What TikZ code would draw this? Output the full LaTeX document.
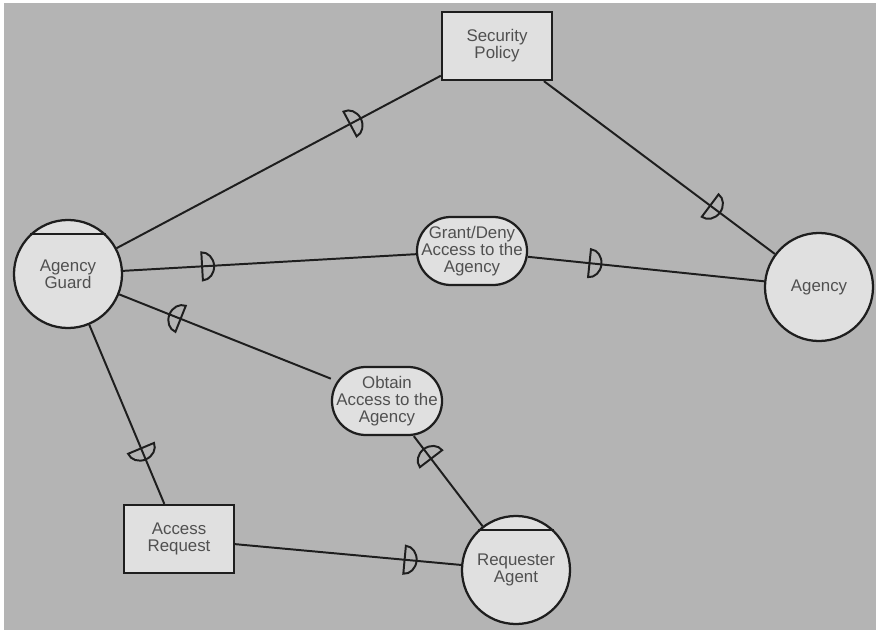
\documentclass[tikz,border=0pt]{standalone}
\usepackage{fontspec}
\setmainfont{Liberation Sans}
\usetikzlibrary{decorations.markings}
\definecolor{bggray}{RGB}{180,180,180}
\definecolor{nodegray}{RGB}{224,224,224}
\definecolor{inkgray}{RGB}{30,30,30}
\definecolor{txtgray}{RGB}{80,80,80}
\begin{document}
\begin{tikzpicture}[
  x=0.025cm, y=-0.025cm,
  base/.style={draw=inkgray, fill=nodegray, line width=1.6pt, text=txtgray,
    font=\fontsize{12}{12}\selectfont, align=center, inner sep=0pt},
  actor/.style={base, circle, minimum size=27mm},
  resource/.style={base, rectangle, minimum width=27.5mm, minimum height=17mm},
  goal/.style={base, rectangle, rounded corners=8.5mm, minimum width=27.5mm, minimum height=17mm},
  link/.style={draw=inkgray, line width=1.4pt},
  dep/.style={link, postaction={decorate}, decoration={markings,
    mark=at position #1 with {\draw[inkgray, line width=1.4pt]
      (0,-3.5mm) -- (0,3.5mm) arc[start angle=90, end angle=-90, x radius=3mm, y radius=3.5mm] -- cycle;}}}
]
  \fill[white] (0,0) rectangle (876,630);
  \fill[bggray] (4,3) rectangle (876,630);
  \useasboundingbox (0,0) rectangle (876,630);

  \node[resource] (sp) at (497,46) {Security\\Policy};
  \node[actor] (ag) at (68,274) {Agency\\Guard};
  \node[actor] (agency) at (819,287) {Agency};
  \node[goal] (gd) at (472,251) {Grant/Deny\\Access to the\\Agency};
  \node[goal] (obtain) at (387,401) {Obtain\\Access to the\\Agency};
  \node[resource] (ar) at (179,539) {Access\\Request};
  \node[actor] (ra) at (516,570) {Requester\\Agent};

  % agent tops
  \draw[inkgray, line width=1.4pt] (ag.46) -- (ag.134);
  \draw[inkgray, line width=1.4pt] (ra.46) -- (ra.134);

  % dependencies
  \draw[dep=0.72] (ag) -- (sp);
  \draw[dep=0.72] (sp) -- (agency);
  \draw[dep=0.27] (ag) -- (gd);
  \draw[dep=0.26] (gd) -- (agency);
  \draw[dep=0.71] (obtain) -- (ag);
  \draw[dep=0.75] (ra) -- (obtain);
  \draw[dep=0.69] (ag) -- (ar);
  \draw[dep=0.75] (ar) -- (ra);
\end{tikzpicture}
\end{document}
